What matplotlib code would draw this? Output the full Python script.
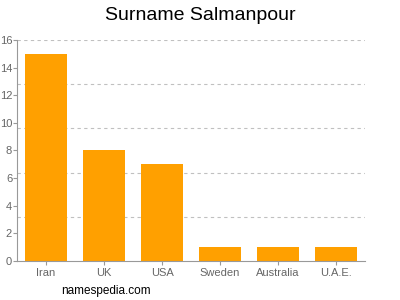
import matplotlib
matplotlib.use("Agg")
import matplotlib.pyplot as plt
import numpy as np

plt.rcParams["font.family"] = ["Liberation Sans", "DejaVu Sans"]

# data
countries = ["Iran", "UK", "USA", "Sweden", "Australia", "U.A.E."]
counts = [15, 8, 7, 1, 1, 1]
y_ticks = [0, 2, 4, 6, 8, 10, 12, 14, 16]

fig = plt.figure(figsize=(4, 3), dpi=100)
ax = fig.add_axes([0.0425, 0.13, 0.87, 0.7367])

x = np.arange(len(countries))
ax.bar(x, counts, width=0.74, color="#ffa000", zorder=2)

ax.set_xlim(-0.5, len(countries) - 0.5)
ax.set_ylim(0, 16)
ax.set_xticks(x)
ax.set_xticklabels(countries)
ax.set_yticks(y_ticks)

# dashed grid at fifths of the range, not at the ticks
for g in np.linspace(0, 16, 6)[1:]:
    ax.axhline(g, color="#c0c0c0", linestyle=(0, (3, 3)), linewidth=0.8, zorder=1)

for side in ["top", "right"]:
    ax.spines[side].set_visible(False)
for side in ["left", "bottom"]:
    ax.spines[side].set_color("#999999")
    ax.spines[side].set_linewidth(0.8)

ax.tick_params(axis="both", colors="#999999", labelcolor="#666666",
               labelsize=8, length=3, width=0.8)
ax.tick_params(axis="y", pad=0.5)
ax.tick_params(axis="x", pad=2)

fig.text(0.5, 0.95, "Surname Salmanpour", ha="center", va="center", fontsize=14)
fig.text(0.265, 0.03, "namespedia.com", ha="center", va="center", fontsize=8.5)

fig.savefig("out.png", dpi=100)
